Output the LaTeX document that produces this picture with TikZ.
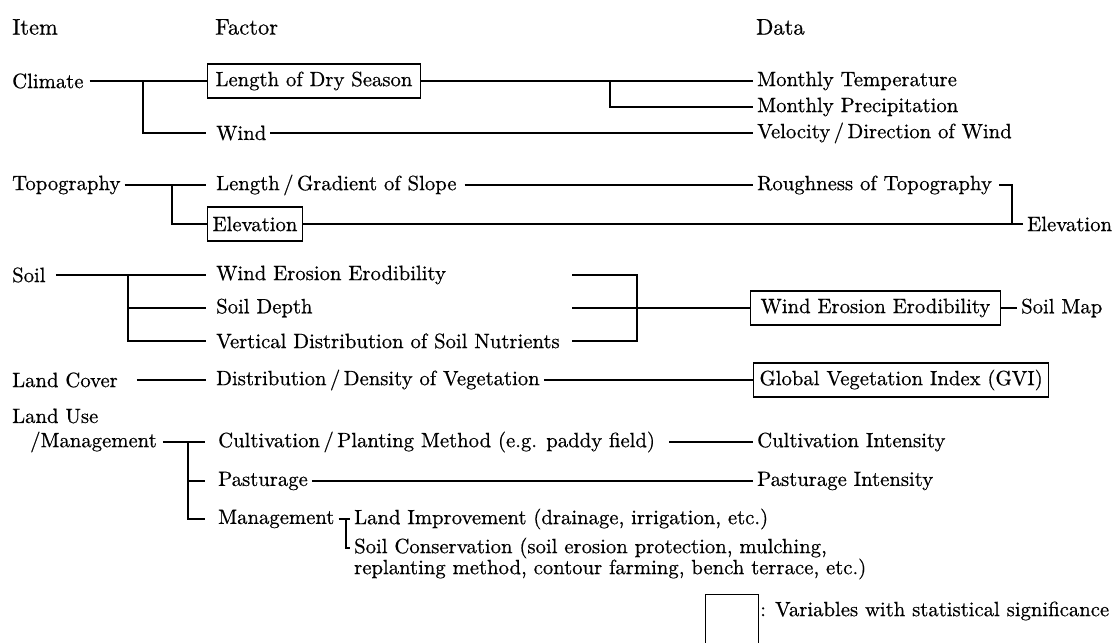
\documentclass[tikz,border=0pt]{standalone}
\usepackage{fontspec}
\setmainfont{lmroman10-regular.otf}[FakeBold=0.55]
\begin{document}
\begin{tikzpicture}[x=1pt,y=-1pt,
  every node/.style={font=\fontsize{20.7}{20}\selectfont},
  hdr/.style={anchor=west, inner xsep=0pt, font=\fontsize{22.5}{24}\selectfont},
  txt/.style={inner xsep=4pt, inner ysep=2pt, anchor=west},
  vbox/.style={draw, line width=1.1pt, inner xsep=8pt, inner ysep=5pt, minimum height=34pt, anchor=west},
  conn/.style={line width=1.1pt},
  tofac/.style={conn, shorten >=6pt},
]
\fill[white] (0,0) rectangle (1120,643);
\useasboundingbox (0,0) rectangle (1120,643);

% headers
\node[hdr] (hItem) at (12,27) {Item};
\node[hdr] (hFactor) at (215,27) {Factor};
\node[hdr] (hData) at (756,27) {Data};

% Climate
\node[txt] (climate) at (8,81) {Climate};
\node[vbox] (dry) at (207,81) {Length of Dry Season};
\node[txt] (wind) at (212,133) {Wind};
\node[txt] (mtemp) at (753,81) {Monthly Temperature};
\node[txt] (mprec) at (753,107) {Monthly Precipitation};
\node[txt] (vel) at (753,133) {Velocity\,/\,Direction of Wind};
\coordinate (c1) at (143,81);
\coordinate (c2) at (610,81);
\draw[conn, shorten <=2pt] (climate) -- (dry);
\draw[tofac] (c1) |- (wind);
\draw[conn] (dry) -- (mtemp);
\draw[conn] (c2) |- (mprec);
\draw[conn] (wind) -- (vel);

% Topography
\node[txt] (topo) at (8,185) {Topography};
\node[txt] (lgs) at (212,185) {Length\,/\,Gradient of Slope};
\node[vbox, inner xsep=5pt] (elev) at (207,224) {Elevation};
\node[txt] (rough) at (753,185) {Roughness of Topography};
\node[txt] (elevd) at (1023,224) {Elevation};
\coordinate (c3) at (172,185);
\coordinate (c4) at (1012,224);
\draw[tofac] (topo) -- (lgs);
\draw[conn] (c3) |- (elev);
\draw[conn, shorten <=4pt] (lgs) -- (rough);
\draw[conn] (elev) -- (elevd);
\draw[conn, shorten <=3pt] (rough.east) -| (c4);

% Soil
\node[txt] (soil) at (8,275) {Soil};
\node[txt] (wee) at (212,275) {Wind Erosion Erodibility};
\node[txt] (sd) at (212,308) {Soil Depth};
\node[txt] (vd) at (212,341) {Vertical Distribution of Soil Nutrients};
\node[vbox, inner xsep=10pt] (weeb) at (750,308) {Wind Erosion Erodibility};
\node[txt] (smap) at (1017,308) {Soil Map};
\coordinate (c5) at (128,275);
\coordinate (b1) at (572,275);
\coordinate (b2) at (637,275);
\coordinate (b3) at (637,341);
\coordinate (b4) at (572,308);
\coordinate (b5) at (572,341);
\draw[tofac, shorten <=6pt] (soil) -- (wee);
\draw[tofac] (c5) |- (sd);
\draw[tofac] (c5) |- (vd);
\draw[conn] (b1) -- (b2) -- (b3) -- (b5);
\draw[conn] (b4) -- (weeb);
\draw[conn] (weeb) -- (smap);

% Land Cover
\node[txt] (lc) at (8,380) {Land Cover};
\node[txt] (ddv) at (212,380) {Distribution\,/\,Density of Vegetation};
\node[vbox, inner xsep=6pt] (gvi) at (753,380) {Global Vegetation Index (GVI)};
\draw[tofac, shorten <=15pt] (lc) -- (ddv);
\draw[conn] (ddv) -- (gvi);

% Land Use / Management
\node[txt] (lu1) at (8,416) {Land Use};
\node[txt] (lu2) at (26,442) {/Management};
\node[txt] (cult) at (214,442) {Cultivation\,/\,Planting Method (e.g. paddy field)};
\node[txt] (past) at (214,481) {Pasturage};
\node[txt] (mgmt) at (214,519) {Management};
\node[txt] (culti) at (753,442) {Cultivation Intensity};
\node[txt] (pasti) at (753,481) {Pasturage Intensity};
\node[txt] (limp) at (350,519) {Land Improvement (drainage, irrigation, etc.)};
\node[txt] (sc1) at (350,548) {Soil Conservation (soil erosion protection, mulching,};
\node[txt] (sc2) at (350,569) {replanting method, contour farming, bench terrace, etc.)};
\coordinate (c6) at (188,442);
\coordinate (c7) at (346,519);
\draw[conn, shorten <=2pt, shorten >=9pt] (lu2) -- (cult);
\draw[conn, shorten >=9pt] (c6) |- (past);
\draw[conn, shorten >=9pt] (c6) |- (mgmt);
\draw[conn, shorten <=10pt] (cult) -- (culti);
\draw[conn] (past) -- (pasti);
\draw[conn] (mgmt) -- (limp);
\draw[conn] (c7) |- (sc1);

% Legend
\node[draw, line width=1.1pt, minimum width=53pt, minimum height=60pt, anchor=north west, inner sep=0pt] (leg) at (705,594) {};
\node[txt] (legt) at (756,611) {: Variables with statistical significance};
\end{tikzpicture}
\end{document}
